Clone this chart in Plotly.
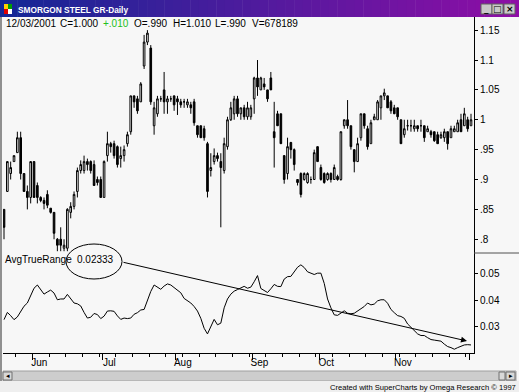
import plotly.graph_objects as go
import pandas as pd

# ---------------- data ----------------
dates = pd.bdate_range("2001-05-21", "2001-12-03") + pd.Timedelta(hours=12)

opens = [.85, .88, .91, .93, .945, .97, .91, .88, .87, .93,
         .89, .87, .865, .875, .852, .845, .80, .80, .785, .785,
         .845, .855, .88, .915, .915, .93, .93, .925, .90, .90,
         .87, .94, .96, .96, .955, .935, .94, .96, .98, 1.04,
         1.035, 1.03, 1.09, 1.13, 1.12, .99, 1.01, 1.035, 1.05, 1.03,
         1.035, 1.04, 1.035, 1.03, 1.03, 1.025, 1.025, 1.03, .99, .99,
         .985, .96, .915, .93, .94, .93, .915, .955, 1.0, 1.01,
         1.035, 1.01, 1.02, 1.005, 1.005, 1.035, 1.07, 1.05, 1.06, 1.05,
         1.07, .98, 1.01, 1.01, .94, .91, .962, .95, .90, .91,
         .90, .895, .90, .90, .955, .92, .91, .90, .91, .90,
         .905, .90, .99, 1.0, .99, .95, .93, .97, 1.01, .985,
         .96, 1.0, 1.0, 1.02, 1.04, 1.04, 1.03, 1.02, 1.02, 1.0,
         .975, .99, .99, .985, .99, .99, .99, .98, .98, .98,
         .975, .97, .97, .98, .97, .98, .98, 1.0, .99, 1.0,
         .99]
highs = [.85, .93, .93, .94, .98, .98, .91, .89, .93, .93,
         .895, .872, .87, .882, .852, .845, .802, .82, .80, .852,
         .862, .88, .92, .932, .94, .935, .932, .932, .905, .905,
         .932, .98, .963, .965, .957, .955, .957, .98, 1.04, 1.04,
         1.04, 1.063, 1.142, 1.15, 1.125, 1.03, 1.04, 1.04, 1.08, 1.04,
         1.04, 1.04, 1.04, 1.035, 1.035, 1.035, 1.03, 1.035, .99, .99,
         .99, .963, .944, .952, .945, .944, .97, 1.005, 1.03, 1.04,
         1.04, 1.02, 1.025, 1.03, 1.025, 1.072, 1.10, 1.072, 1.07, 1.05,
         1.08, 1.03, 1.015, 1.01, .94, .97, .963, .952, .90, .912,
         .912, .912, .905, .95, .955, .925, .912, .912, .912, .925,
         .908, .98, 1.0, 1.033, .99, .95, .97, 1.01, 1.01, .99,
         1.0, 1.01, 1.033, 1.04, 1.052, 1.04, 1.033, 1.025, 1.02, 1.0,
         1.0, 1.0, 1.0, 1.0, .99, 1.0, .99, .99, .983, .98,
         .98, .98, .985, .98, .99, .99, 1.0, 1.01, 1.02, 1.005,
         1.01]
lows = [.80, .88, .90, .93, .945, .90, .88, .85, .86, .87,
        .86, .862, .85, .852, .843, .80, .78, .78, .78, .78,
        .835, .85, .87, .91, .91, .915, .91, .89, .89, .87,
        .87, .93, .945, .935, .92, .92, .93, .955, .975, 1.02,
        1.01, 1.03, 1.085, 1.125, 1.025, .975, 1.005, 1.03, 1.01, 1.01,
        1.03, 1.015, 1.008, 1.02, 1.02, 1.02, 1.01, .99, .97, .97,
        .965, .87, .905, .925, .93, .82, .91, .95, .998, 1.0,
        1.005, 1.0, 1.0, 1.0, 1.0, 1.01, 1.04, 1.05, 1.05, 1.03,
        1.05, .92, .99, .96, .893, .90, .935, .915, .89, .87,
        .898, .893, .893, .90, .93, .898, .893, .898, .895, .90,
        .898, .898, .985, .985, .95, .912, .93, .965, .985, .95,
        .96, 1.0, 1.0, 1.0, 1.033, 1.02, 1.01, 1.01, 1.0, .96,
        .97, .982, .98, .98, .98, .98, .963, .98, .97, .963,
        .96, .968, .963, .95, .97, .98, .98, .98, .99, .98,
        .99]
closes = [.82, .93, .92, .94, .97, .91, .88, .87, .93, .87,
          .87, .865, .86, .857, .845, .81, .79, .79, .79, .85,
          .855, .875, .915, .925, .93, .925, .915, .89, .895, .87,
          .93, .96, .955, .94, .925, .94, .95, .975, 1.04, 1.03,
          1.015, 1.06, 1.13, 1.145, 1.03, 1.02, 1.035, 1.035, 1.03, 1.035,
          1.035, 1.025, 1.03, 1.025, 1.03, 1.03, 1.02, .995, .975, .97,
          .97, .88, .92, .94, .935, .92, .96, 1.0, 1.02, 1.035,
          1.01, 1.02, 1.005, 1.02, 1.02, 1.07, 1.055, 1.07, 1.055, 1.035,
          1.05, .97, .99, .96, .90, .955, .95, .925, .895, .875,
          .91, .91, .90, .945, .93, .90, .895, .91, .90, .92,
          .90, .98, 1.0, .99, .955, .93, .96, 1.01, .99, .955,
          .995, 1.005, 1.03, 1.04, 1.045, 1.02, 1.015, 1.01, 1.005, .96,
          .985, .99, .99, .99, .985, .99, .97, .985, .975, .965,
          .96, .975, .98, .96, .985, .985, .995, .98, 1.01, .985,
          1.0]
atr = [.0327, .0354, .0342, .0327, .0337, .0358, .0377, .0389, .0420, .0444,
       .0456, .0440, .0422, .0430, .0437, .0426, .0401, .0404, .0404, .0421,
       .0404, .0389, .0386, .0378, .0354, .0333, .0336, .0350, .0346, .0331,
       .0340, .0359, .0360, .0358, .0341, .0328, .0333, .0331, .0333, .0347,
       .0353, .0363, .0365, .0401, .0432, .0456, .0448, .0440, .0452, .0460,
       .0456, .0447, .0435, .0427, .0406, .0398, .0389, .0376, .0359, .0332,
       .0295, .0274, .0303, .0328, .0308, .0314, .0371, .0404, .0422, .0433,
       .0439, .0446, .0451, .0444, .0448, .0468, .0491, .0443, .0436, .0428,
       .0442, .0458, .0451, .0450, .0478, .0487, .0488, .0504, .0522, .0531,
       .0521, .0505, .0499, .0495, .0500, .0500, .0462, .0404, .0371, .0345,
       .0343, .0352, .0360, .0351, .0349, .0351, .0359, .0368, .0376, .0389,
       .0382, .0385, .0397, .0401, .0401, .0388, .0365, .0353, .0342, .0339,
       .0332, .0311, .0299, .0288, .0274, .0268, .0268, .0260, .0253, .0251,
       .0250, .0247, .0236, .0227, .0223, .0217, .0223, .0229, .0233, .0234,
       .0233]
atr_last_label = "0.02333"

header_tokens = ["12/03/2001", "C=1.000", "+.010", "O=.990", "H=1.010", "L=.990", "V=678189"]

price_ticks = [0.8, 0.85, 0.9, 0.95, 1.0, 1.05, 1.1, 1.15]
price_tick_labels = [".8", ".85", ".9", ".95", "1", "1.05", "1.1", "1.15"]
atr_ticks = [0.03, 0.04, 0.05]
atr_tick_labels = ["0.03", "0.04", "0.05"]

# ---------------- derived axis ticks ----------------
dser = pd.Series(dates)
month_starts = dser.groupby(dser.dt.to_period("M")).first()
month_starts = [d.normalize() for d in month_starts][1:]
month_labels = [d.strftime("%b") for d in month_starts]
month_labels[-1] = ""
fridays = [d.normalize() for d in dates if d.weekday() == 4]

# ---------------- figure ----------------
W, H = 519, 392
def px(x):
    return x / W
def py(y):
    return 1 - y / H

FONT = "Liberation Sans, Arial, sans-serif"
BG = "#f7f7f7"
FS = 10

fig = go.Figure()
fig.add_trace(go.Candlestick(
    x=dates, open=opens, high=highs, low=lows, close=closes,
    increasing=dict(line=dict(color="black", width=1), fillcolor="white"),
    decreasing=dict(line=dict(color="black", width=1), fillcolor="black"),
    whiskerwidth=0, showlegend=False, hoverinfo="skip",
    xaxis="x", yaxis="y"))
fig.add_trace(go.Scatter(
    x=dates, y=atr, mode="lines", line=dict(color="black", width=1),
    showlegend=False, hoverinfo="skip", xaxis="x", yaxis="y2"))

shapes = []
annotations = []

# title bar gradient
n = 60
c0 = (20, 40, 150)
c1 = (142, 14, 166)
for i in range(n):
    t = i / (n - 1)
    col = "rgb(%d,%d,%d)" % tuple(int(c0[k] + (c1[k] - c0[k]) * t) for k in range(3))
    shapes.append(dict(type="rect", xref="paper", yref="paper",
                       x0=px(i * W / n), x1=px((i + 1) * W / n + 0.5),
                       y0=py(17), y1=py(0), fillcolor=col, line=dict(width=0), layer="above"))
# title icon
for (xx, yy, col) in [(4, 4, "#ffd000"), (8, 4, "#00a000"), (4, 9, "#e00000"), (8, 9, "#ffffff")]:
    shapes.append(dict(type="rect", xref="paper", yref="paper",
                       x0=px(xx), x1=px(xx + 4), y0=py(yy + 5), y1=py(yy),
                       fillcolor=col, line=dict(width=0), layer="above"))
# window buttons
for (bx, glyph) in [(481, "_"), (492, "□"), (504, "×")]:
    shapes.append(dict(type="rect", xref="paper", yref="paper",
                       x0=px(bx), x1=px(bx + 11), y0=py(14), y1=py(4),
                       fillcolor="#c8c8c8", line=dict(color="#606060", width=1), layer="above"))
    annotations.append(dict(x=px(bx + 5.5), y=py(9), xref="paper", yref="paper",
                            text="<b>%s</b>" % glyph, showarrow=False,
                            font=dict(family="DejaVu Sans", size=9, color="black"),
                            xanchor="center", yanchor="middle"))
# left window border
shapes.append(dict(type="line", xref="paper", yref="paper", x0=px(1), x1=px(1),
                   y0=py(381), y1=py(17), line=dict(color="#909090", width=2)))
# right-axis divider between panels
shapes.append(dict(type="line", xref="paper", yref="paper", x0=px(474), x1=px(519),
                   y0=py(253), y1=py(253), line=dict(color="#505050", width=1)))
# ellipse around value
shapes.append(dict(type="circle", xref="paper", yref="paper",
                   x0=px(66), x1=px(122), y0=py(279), y1=py(244),
                   line=dict(color="black", width=1)))
# scrollbar
shapes.append(dict(type="rect", xref="paper", yref="paper", x0=px(3), x1=px(516),
                   y0=py(381), y1=py(371), fillcolor="#cdcdcd",
                   line=dict(color="#a0a0a0", width=1), layer="below"))
for (bx, glyph) in [(3, "◂"), (506, "▸")]:
    shapes.append(dict(type="rect", xref="paper", yref="paper", x0=px(bx), x1=px(bx + 9),
                       y0=py(380), y1=py(372), fillcolor="#d8d8d8",
                       line=dict(color="#707070", width=1), layer="below"))
    annotations.append(dict(x=px(bx + 4.5), y=py(376), xref="paper", yref="paper",
                            text=glyph, showarrow=False,
                            font=dict(family="DejaVu Sans", size=7, color="black"),
                            xanchor="center", yanchor="middle"))
shapes.append(dict(type="rect", xref="paper", yref="paper", x0=px(499), x1=px(505),
                   y0=py(380), y1=py(372), fillcolor="#d8d8d8",
                   line=dict(color="#707070", width=1), layer="below"))
# footer strip
shapes.append(dict(type="rect", xref="paper", yref="paper", x0=0, x1=1,
                   y0=0, y1=py(381), fillcolor="#efefef", line=dict(width=0), layer="below"))

# title text
annotations.append(dict(x=px(16), y=py(9.5), xref="paper", yref="paper",
                        text="<b>SMORGON STEEL GR-Daily</b>", showarrow=False,
                        font=dict(family=FONT, size=8.3, color="white"),
                        xanchor="left", yanchor="middle"))
# header tokens
header_x = [4, 58, 101, 132, 171, 213, 250]
header_col = ["black", "black", "#20c020", "black", "black", "black", "black"]
for hx, txt, col in zip(header_x, header_tokens, header_col):
    annotations.append(dict(x=px(hx), y=py(24), xref="paper", yref="paper", text=txt,
                            showarrow=False, font=dict(family=FONT, size=FS, color=col),
                            xanchor="left", yanchor="middle"))
# indicator label
annotations.append(dict(x=px(3), y=py(259.5), xref="paper", yref="paper", text="AvgTrueRange",
                        showarrow=False, font=dict(family=FONT, size=FS, color="black"),
                        xanchor="left", yanchor="middle"))
annotations.append(dict(x=px(75), y=py(259.5), xref="paper", yref="paper", text=atr_last_label,
                        showarrow=False, font=dict(family=FONT, size=FS, color="black"),
                        xanchor="left", yanchor="middle"))
# arrow
annotations.append(dict(x=px(467), y=py(341), xref="paper", yref="paper", text="",
                        showarrow=True, ax=122 - 467, ay=262 - 341, axref="pixel", ayref="pixel",
                        arrowhead=2, arrowsize=1.2, arrowwidth=1, arrowcolor="black"))
# footer text
annotations.append(dict(x=px(518), y=py(387), xref="paper", yref="paper",
                        text="Created with SuperCharts by Omega Research © 1997",
                        showarrow=False, font=dict(family=FONT, size=7.6, color="black"),
                        xanchor="right", yanchor="middle"))

fig.update_layout(
    width=W, height=H, margin=dict(l=0, r=0, t=0, b=0),
    paper_bgcolor=BG, plot_bgcolor=BG, showlegend=False,
    xaxis=dict(domain=[px(3), px(474)], anchor="y2",
               range=["2001-05-21 04:48", "2001-12-04 09:36"],
               rangebreaks=[dict(bounds=["sat", "mon"])],
               rangeslider=dict(visible=False),
               tickmode="array", tickvals=month_starts, ticktext=month_labels,
               ticks="outside", ticklen=6, tickcolor="black", tickwidth=1,
               ticklabelshift=7, ticklabelstandoff=-6,
               tickfont=dict(family=FONT, size=FS, color="black"),
               showline=True, linecolor="black", linewidth=1,
               showgrid=False, zeroline=False,
               minor=dict(tickmode="array", tickvals=fridays, ticks="outside", ticklen=3,
                          tickcolor="black", showgrid=False)),
    yaxis=dict(domain=[py(253), py(17)], anchor="x", side="right",
               range=[0.777, 1.172], tickmode="array", tickvals=price_ticks,
               ticktext=price_tick_labels, ticks="outside", ticklen=3, tickcolor="black",
               tickfont=dict(family=FONT, size=FS, color="black"),
               showline=True, linecolor="black", linewidth=1,
               showgrid=False, zeroline=False),
    yaxis2=dict(domain=[py(353), py(253)], anchor="x", side="right",
                range=[0.0203, 0.0575], tickmode="array", tickvals=atr_ticks,
                ticktext=atr_tick_labels, ticks="outside", ticklen=3, tickcolor="black",
                tickfont=dict(family=FONT, size=FS, color="black"),
                showline=True, linecolor="black", linewidth=1,
                showgrid=False, zeroline=False),
    shapes=shapes, annotations=annotations,
)

fig.write_html("out.html", config={"displayModeBar": False})
